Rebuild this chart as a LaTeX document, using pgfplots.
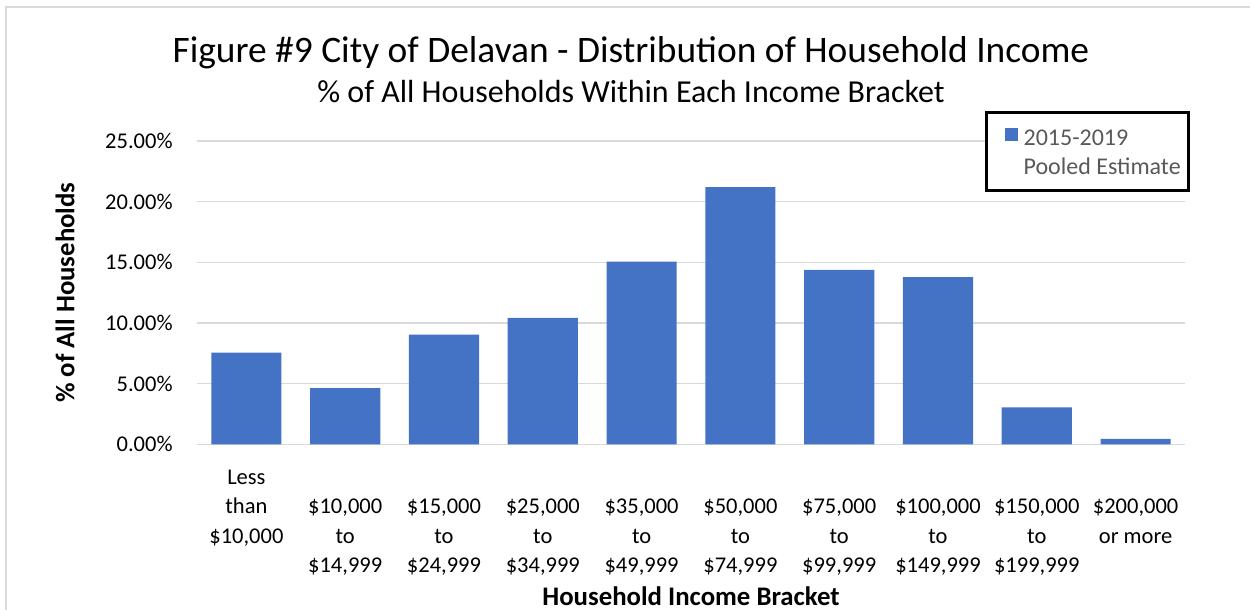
\documentclass[border=0pt]{standalone}
\usepackage{fontspec}
\setmainfont{Carlito}
\usepackage{pgfplots}
\pgfplotsset{compat=1.18}
\definecolor{barblue}{HTML}{4472C4}
\definecolor{gridgray}{HTML}{D9D9D9}
\definecolor{legtext}{HTML}{595959}
\newcommand{\tl}[1]{\begin{tabular}[t]{@{}c@{}}#1\end{tabular}}
\newcommand{\tickfont}{\fontsize{11.25}{14.7}\selectfont}

\begin{document}
\begin{tikzpicture}
\useasboundingbox (-98.5pt,-82.85pt) rectangle (526.5pt,222.15pt);
% chart frame (left and top edges visible)
\draw[gridgray, line width=1pt] (-95.25pt,-90pt) -- (-95.25pt,218.4pt) -- (530pt,218.4pt);
\node[anchor=base, font=\fontsize{18.7}{22}\selectfont] at (217pt,190.65pt)
  {Figure \#9 City of Delavan - Distribution of Household Income};
\node[anchor=base, font=\fontsize{16}{19}\selectfont] at (217pt,170.65pt)
  {\% of All Households Within Each Income Bracket};
\begin{axis}[
  at={(0pt,0pt)}, anchor=south west,
  scale only axis, width=494pt, height=151.65pt,
  xmin=-0.5, xmax=9.5, ymin=0, ymax=25,
  ybar, bar width=0.71,
  axis line style={draw=none},
  major tick length=0pt,
  ymajorgrids, grid style={gridgray, line width=0.75pt},
  ytick={0,5,...,25},
  yticklabels={0.00\%,5.00\%,10.00\%,15.00\%,20.00\%,25.00\%},
  yticklabel style={anchor=east, inner sep=0pt, xshift=-12pt, font=\tickfont},
  xtick={0,...,9},
  xticklabels={
    \tl{Less\\than\\\$10,000},
    \tl{\\\$10,000\\to\\\$14,999},
    \tl{\\\$15,000\\to\\\$24,999},
    \tl{\\\$25,000\\to\\\$34,999},
    \tl{\\\$35,000\\to\\\$49,999},
    \tl{\\\$50,000\\to\\\$74,999},
    \tl{\\\$75,000\\to\\\$99,999},
    \tl{\\\$100,000\\to\\\$149,999},
    \tl{\\\$150,000\\to\\\$199,999},
    \tl{\\\$200,000\\or more}},
  xticklabel style={anchor=base, inner sep=0pt, yshift=-20.1pt, font=\tickfont},
  xlabel={Household Income Bracket},
  xlabel style={at={(axis description cs:0.5,-0.5)}, anchor=center, font=\fontsize{13.4}{16}\selectfont\bfseries},
  ylabel={\% of All Households},
  ylabel style={at={(axis description cs:-0.1336,0.5)}, anchor=center, rotate=0, font=\fontsize{13.4}{16}\selectfont\bfseries},
  legend style={at={(rel axis cs:0.7976,1.0989)}, anchor=north west,
    draw=black, line width=1.5pt, fill=white,
    inner xsep=3.95pt, inner ysep=6.1pt,
    font=\fontsize{12}{14.7}\selectfont, text=legtext,
    nodes={inner sep=0pt}, cells={anchor=west, align=left},
    /tikz/every odd column/.append style={column sep=2.65pt}},
  legend image code/.code={\path (0pt,5pt);
    \fill[barblue] (5.2pt,5pt) rectangle (11.95pt,11.75pt);},
]
\addplot[fill=barblue, draw=none] coordinates {
  (0,7.55) (1,4.64) (2,9.03) (3,10.43) (4,15.05)
  (5,21.19) (6,14.37) (7,13.77) (8,3.05) (9,0.45)
};
\addlegendentry{\rule{0pt}{10.4pt}2015-2019\\Pooled Estimate}
\end{axis}
\end{tikzpicture}
\end{document}
